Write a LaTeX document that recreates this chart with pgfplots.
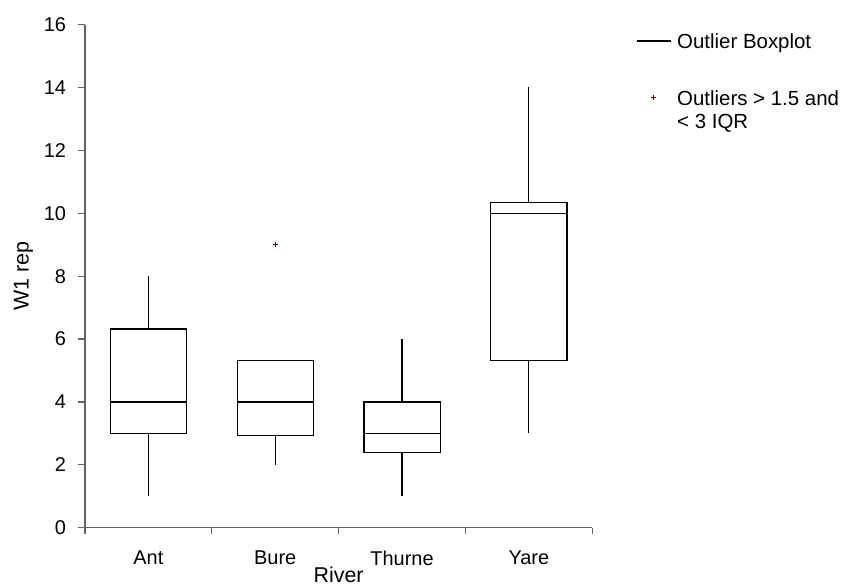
\documentclass[border=0pt]{standalone}
\usepackage{pgfplots}
\pgfplotsset{compat=1.18}
\usepgfplotslibrary{statistics}
\usepackage{fontspec}
\setmainfont{Liberation Sans}
\definecolor{axgray}{RGB}{100,100,100}
\definecolor{outred}{RGB}{128,0,0}

\begin{document}
\begin{tikzpicture}
\begin{axis}[
  at={(0,0)}, anchor=south west,
  scale only axis, width=507.3bp, height=503.1bp,
  xmin=-0.5, xmax=3.5, ymin=0, ymax=16,
  axis lines*=left,
  axis line style={axgray, line width=1.2bp},
  ytick={0,2,...,16},
  xtick={0,1,2,3}, xticklabels={Ant,Bure,Thurne,Yare},
  minor xtick={-0.5,0.5,1.5,2.5,3.5},
  major x tick style={draw=none},
  tick align=outside,
  major tick length=6.5bp, minor tick length=6.5bp,
  tick style={axgray, line width=1.2bp},
  /pgf/number format/assume math mode=true,
  tick label style={font=\fontsize{20}{23}\selectfont},
  xticklabel style={yshift=-13bp},
  yticklabel style={xshift=-9bp},
  label style={font=\fontsize{21.5}{25}\selectfont},
  xlabel={River}, ylabel={W1 rep},
  xlabel style={at={(axis description cs:0.5,-0.1085)}, anchor=base},
  ylabel style={at={(axis description cs:-0.111,0.5)}, anchor=base, rotate=0},
  boxplot/draw direction=y,
  legend style={draw=none, fill=none, inner sep=0pt, outer sep=0pt,
    at={(axis description cs:1.0862,0.9827)}, anchor=north west,
    row sep=3.3bp, column sep=6bp,
    font=\fontsize{20.5}{24}\selectfont,
    nodes={inner xsep=0bp, inner ysep=0bp, text height=15bp, text depth=5bp},
    cells={anchor=base west}},
  clip=false,
]
\addplot[boxplot prepared={draw position=0, lower whisker=1, lower quartile=3,
  median=4, upper quartile=6.32, upper whisker=8, box extend=0.6, whisker extend=0},
  black, line width=1.2bp, forget plot] coordinates {};
\addplot[boxplot prepared={draw position=1, lower whisker=2, lower quartile=2.94,
  median=4, upper quartile=5.33, upper whisker=5.33, box extend=0.6, whisker extend=0},
  black, line width=1.2bp, mark=+, mark size=2.7bp,
  mark options={outred, line width=0.9bp}, forget plot]
  table[row sep=\\, y index=0] {9\\};
\addplot[boxplot prepared={draw position=2, lower whisker=1, lower quartile=2.4,
  median=3, upper quartile=4, upper whisker=6, box extend=0.6, whisker extend=0},
  black, line width=1.2bp, forget plot] coordinates {};
\addplot[boxplot prepared={draw position=3, lower whisker=3, lower quartile=5.32,
  median=10, upper quartile=10.34, upper whisker=14, box extend=0.6, whisker extend=0},
  black, line width=1.2bp, forget plot] coordinates {};

\addlegendimage{legend image code/.code={\draw[black, line width=1.2bp] (0bp,7.4bp) -- (34bp,7.4bp);}}
\addlegendentry{Outlier Boxplot}
\addlegendimage{legend image code/.code={}}
\addlegendentry[text height=20bp, text depth=10.1bp]{}
\addlegendimage{legend image code/.code={\draw[outred, line width=0.9bp, mark=+, mark size=2.6bp] plot coordinates {(17bp,7.4bp)};}}
\addlegendentry{Outliers > 1.5 and}
\addlegendimage{legend image code/.code={}}
\addlegendentry{< 3 IQR}
\end{axis}
\pgfresetboundingbox
\path[use as bounding box] (-85bp,-58.3bp) rectangle (756bp,527.7bp);
\end{tikzpicture}
\end{document}
